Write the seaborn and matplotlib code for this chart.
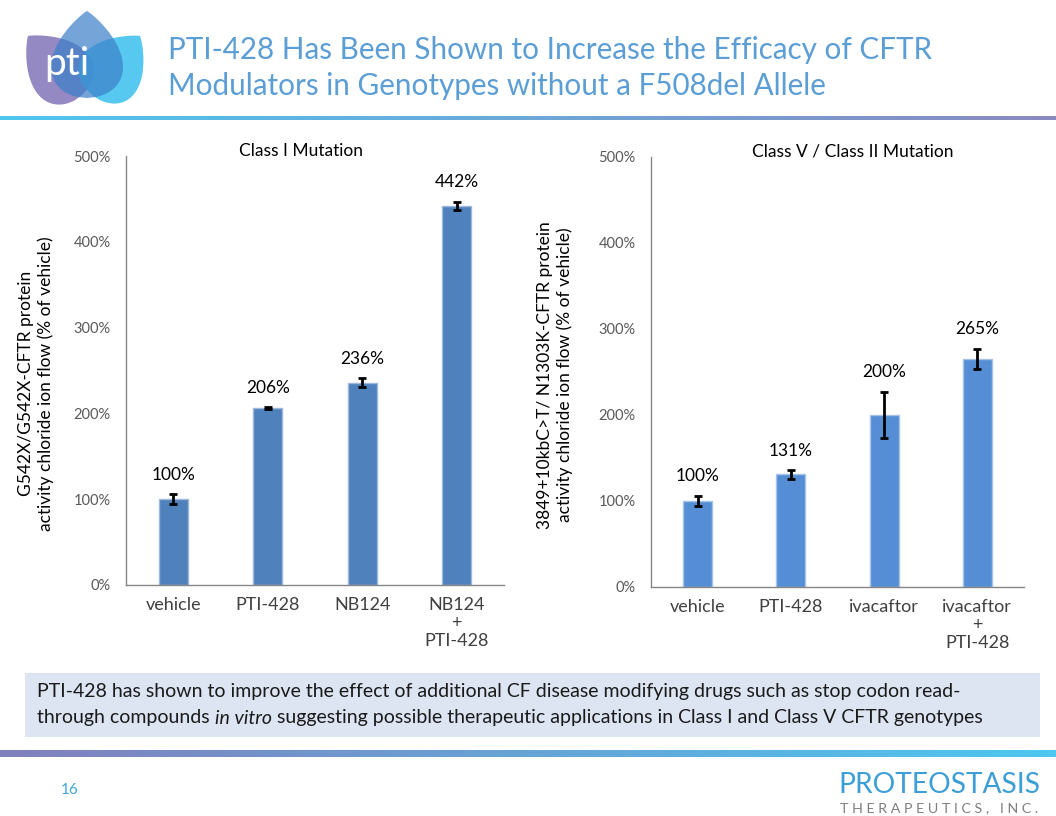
import numpy as np
import matplotlib
matplotlib.use("Agg")
import matplotlib.pyplot as plt
import seaborn as sns
from matplotlib.patches import Polygon, Rectangle
from matplotlib.colors import LinearSegmentedColormap
from matplotlib.ticker import FuncFormatter

sns.set_theme(style="white")
plt.rcParams['font.family'] = ['Lato', 'DejaVu Sans']

# ---------------- data ----------------
left_categories = ["vehicle", "PTI-428", "NB124", "NB124\n+\nPTI-428"]
left_values = [100, 206, 236, 442]
left_errors = [5.5, 1.0, 5.0, 4.5]

right_categories = ["vehicle", "PTI-428", "ivacaftor", "ivacaftor\n+\nPTI-428"]
right_values = [100, 131, 200, 265]
right_errors = [6.0, 5.0, 27.0, 12.0]

y_ticks = [0, 100, 200, 300, 400, 500]

left_title = "Class I Mutation"
right_title = "Class V / Class II Mutation"
left_ylabel = "G542X/G542X-CFTR protein\nactivity chloride ion flow (% of vehicle)"
right_ylabel = "3849+10kbC>T/ N1303K-CFTR protein\nactivity chloride ion flow (% of vehicle)"

title_lines = ["PTI-428 Has Been Shown to Increase the Efficacy of CFTR",
               "Modulators in Genotypes without a F508del Allele"]
note_line1 = ("PTI-428 has shown to improve the effect of additional CF disease "
              "modifying drugs such as stop codon read-")
note_line2_parts = ["through compounds", "in vitro",
                    "suggesting possible therapeutic applications in Class I and Class V CFTR genotypes"]
page_number = "16"
company = "PROTEOSTASIS"
company_sub = "T H E R A P E U T I C S ,   I N C ."

# ---------------- figure ----------------
W, H = 1056, 816
fig = plt.figure(figsize=(W / 100, H / 100), dpi=100)
fig.patch.set_facecolor("white")
renderer = fig.canvas.get_renderer()

bg = fig.add_axes([0, 0, 1, 1])
bg.set_zorder(0)
bg.axis("off")


def reset_bg():
    bg.set_xlim(0, W)
    bg.set_ylim(H, 0)


reset_bg()


def gradient_bar(y0, y1, c_left, c_right):
    cmap = LinearSegmentedColormap.from_list("g", [c_left, c_right])
    arr = np.linspace(0, 1, 512)[None, :]
    bg.imshow(arr, cmap=cmap, extent=(0, W, y1, y0), aspect="auto", zorder=1)
    reset_bg()


gradient_bar(116, 120, "#4EC6EE", "#8A89C0")
gradient_bar(750, 757, "#8180BD", "#4CC7EF")


def fit_text(x, y, s, target_w, size=12, **kw):
    t = bg.text(x, y, s, fontsize=size, **kw)
    bb = t.get_window_extent(renderer=renderer)
    t.set_fontsize(size * target_w / bb.width)
    return t


def text_width(s, size, **kw):
    t = bg.text(0, 0, s, fontsize=size, **kw)
    w = t.get_window_extent(renderer=renderer).width
    t.remove()
    return w


# title
title_color = "#5B9DD5"
t1 = fit_text(168, 50, title_lines[0], 764, size=24, color=title_color, va="center", ha="left")
bg.text(168, 86, title_lines[1], fontsize=t1.get_fontsize(), color=title_color, va="center", ha="left")


# logo
def leaf(base, tip, hw, n=90):
    base = np.array(base, float)
    tip = np.array(tip, float)
    u = tip - base
    L = np.linalg.norm(u)
    u /= L
    v = np.array([-u[1], u[0]])
    s = np.linspace(0, 1, n)
    f = (1 - s) ** 0.9 * np.sqrt(s)
    f = f / f.max()
    p1 = base[None, :] + (s * L)[:, None] * u + (hw * f)[:, None] * v
    p2 = base[None, :] + (s * L)[:, None] * u - (hw * f)[:, None] * v
    return np.vstack([p1, p2[::-1]])


bg.add_patch(Polygon(leaf((82, 95), (28, 36), 32), closed=True, fc="#8A7CBD", ec="none", alpha=0.9, zorder=2))
bg.add_patch(Polygon(leaf((92, 95), (140, 36), 32), closed=True, fc="#45C4EF", ec="none", alpha=0.9, zorder=2))
bg.add_patch(Polygon(leaf((87, 98), (87, 11), 36), closed=True, fc="#3B7FC8", ec="none", alpha=0.7, zorder=3))
bg.text(67, 64, "pti", color="white", fontsize=28, ha="center", va="center", zorder=4)

# note box
bg.add_patch(Rectangle((25, 673), 1015, 64, fc="#DCE5F1", ec="none", zorder=1))
n1 = fit_text(37, 692, note_line1, 922, size=13, color="#1A1A1A", va="center", ha="left", zorder=2)
fs = n1.get_fontsize()
x = 37
space_w = text_width("a a", fs) - text_width("aa", fs)
styles = ["normal", "italic", "normal"]
for part, st in zip(note_line2_parts, styles):
    bg.text(x, 718, part, fontsize=fs, style=st, color="#1A1A1A", va="center", ha="left", zorder=2)
    x += text_width(part, fs, style=st) + space_w

# footer
bg.text(70, 790, page_number, color="#3EA6DB", fontsize=11, ha="center", va="center")
fit_text(838, 785, company, 202, size=24, color="#3C9ED6", va="center", ha="left",
         family=["Liberation Sans Narrow", "Lato"])
fit_text(840, 808, company_sub, 200, size=6, color="#7F7F7F", va="center", ha="left")


# ---------------- charts ----------------
def px_axes(x0, y0, x1, y1):
    return fig.add_axes([x0 / W, 1 - y1 / H, (x1 - x0) / W, (y1 - y0) / H])


def draw_panel(ax, cats, vals, errs, color, edge, title, title_x, ylabel, ylabel_x, ylabel_y):
    sns.barplot(x=cats, y=vals, color=color, saturation=1, width=0.31,
                edgecolor=edge, linewidth=1.0, ax=ax, zorder=2)
    ax.errorbar(range(len(cats)), vals, yerr=errs, fmt="none", ecolor="black",
                elinewidth=2, capsize=2.6, capthick=2, zorder=3)
    for i, (v, e) in enumerate(zip(vals, errs)):
        ax.annotate(f"{v}%", (i, v + e), xytext=(0, 14), textcoords="offset points",
                    ha="center", va="center", fontsize=12.5, color="black")
    ax.set_ylim(0, 500)
    ax.set_xlim(-0.5, len(cats) - 0.5)
    ax.set_yticks(y_ticks)
    ax.yaxis.set_major_formatter(FuncFormatter(lambda v, p: f"{v:.0f}%"))
    ax.tick_params(axis="y", length=0, pad=11, labelsize=10.5, labelcolor="#595959")
    ax.tick_params(axis="x", length=0, pad=9, labelsize=13, labelcolor="#404040")
    for lab in ax.get_xticklabels():
        lab.set_linespacing(1.12)
    sns.despine(ax=ax)
    for sp in ("left", "bottom"):
        ax.spines[sp].set_color("#868686")
        ax.spines[sp].set_linewidth(1.0)
    ax.set_facecolor("none")
    ax.grid(False)
    ax.set_xlabel("")
    ax.set_ylabel(ylabel, fontsize=12.5, color="black", va="center", linespacing=1.25)
    ax.yaxis.set_label_coords(ylabel_x, ylabel_y)
    ax.text(title_x, 1.012, title, transform=ax.transAxes, ha="center", va="center",
            fontsize=12.5, color="black")


axL = px_axes(126, 156, 504, 585)
draw_panel(axL, left_categories, left_values, left_errors, "#4F81BD", "#9DB8DB",
           left_title, 0.463, left_ylabel, -90 / 378, 0.469)

axR = px_axes(651, 157, 1024, 587)
draw_panel(axR, right_categories, right_values, right_errors, "#558ED5", "#A6C4EA",
           right_title, 0.54, right_ylabel, -96 / 373, 0.493)

fig.savefig("out.png", dpi=100, facecolor="white")
